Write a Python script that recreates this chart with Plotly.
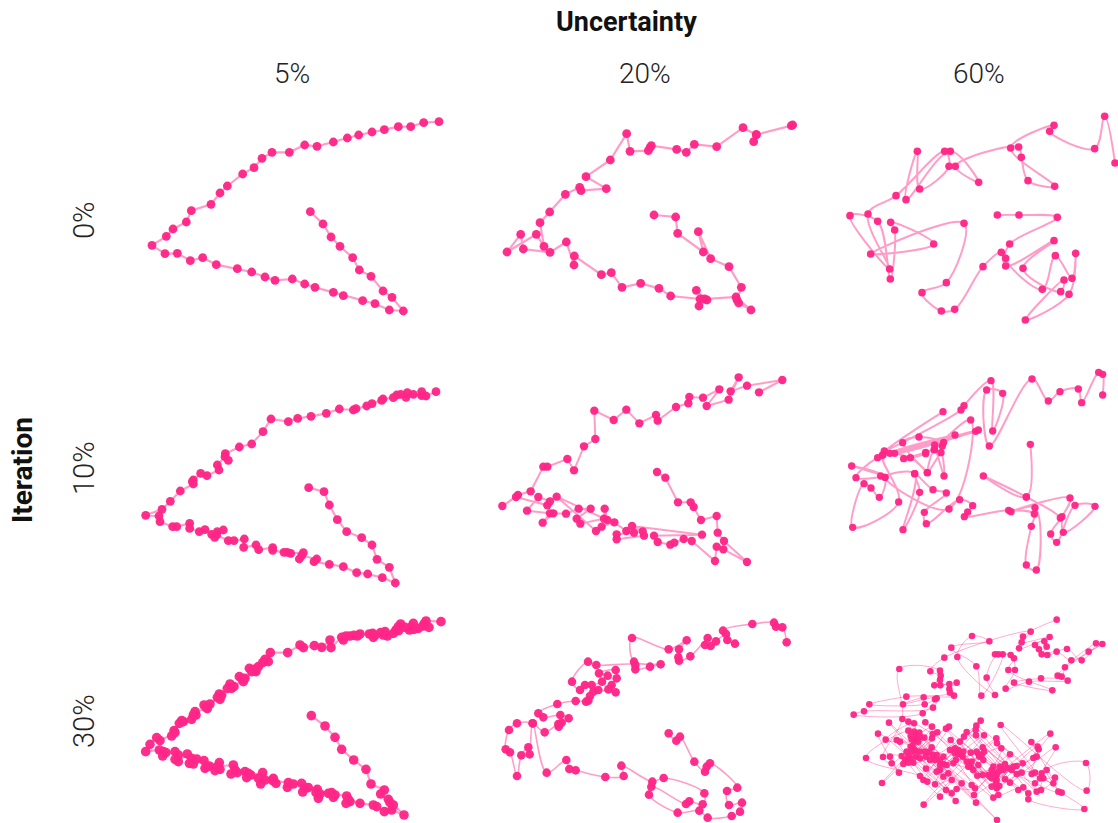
import plotly.graph_objects as go

FIG_W, FIG_H = 1118, 823
PINK = "rgba(255,38,135,0.97)"
LINE = "rgba(255,38,135,0.45)"
LINE_FAINT = "rgba(255,38,135,0.38)"
FONT = "Roboto, sans-serif"

column_labels = ["5%", "20%", "60%"]
column_label_x = [292, 645, 979]
row_labels = ["0%", "10%", "30%"]
row_label_y = [220, 468, 721]

it0_u5 = [(927,50),(881,53),(842,65),(805,65),(763,74),(726,81),(686,90),(652,99),(610,111),(561,124),(524,120),(478,142),(426,142),(396,160),(372,188),(338,207),(292,243),(270,264),(243,298),(184,317),(169,351),(129,372),(109,394),(66,421),(105,446),(142,445),(181,467),(218,458),(259,479),(322,491),(365,501),(405,516),(435,526),(487,522),(524,537),(555,547),(610,562),(640,572),(698,587),(735,596),(778,615),(820,618),(786,577),(759,558),(723,514),(688,495),(668,458),(630,424),(603,396),(579,357),(541,320)]

it0_u20 = [(908,60),(904,62),(799,89),(791,110),(799,89),(759,68),(680,125),(613,118),(589,142),(560,133),(484,122),(480,128),(475,137),(420,139),(410,86),(361,165),(288,215),(349,251),(273,257),(269,247),(226,268),(179,321),(150,353),(162,424),(139,388),(51,441),(92,388),(100,432),(180,442),(229,411),(252,480),(253,453),(334,509),(364,503),(396,547),(452,535),(507,550),(542,573),(630,582),(627,603),(651,585),(619,556),(644,582),(738,576),(783,615),(746,594),(741,585),(754,547),(717,485),(662,461),(625,380),(640,441),(563,385),(557,336),(492,330)]

it0_u60 = [(840,174),(809,34),(779,131),(644,79),(657,61),(527,129),(659,244),(579,227),(559,157),(551,126),(361,184),(431,232),(346,139),(213,284),(247,139),(254,252),(342,184),(329,139),(183,272),(99,327),(164,492),(45,332),(128,349),(166,522),(179,375),(167,352),(296,417),(107,447),(387,355),(334,533),(261,563),(319,618),(359,613),(444,485),(499,442),(512,483),(657,407),(564,490),(677,560),(687,525),(571,645),(702,568),(722,445),(711,520),(661,452),(622,553),(512,460),(524,417),(667,337),(552,330),(487,330)]

it10_u5 = [(918,50),(888,63),(875,50),(875,62),(850,58),(832,53),(828,67),(812,58),(800,60),(790,68),(759,72),(755,76),(726,86),(710,93),(678,101),(670,105),(628,102),(589,115),(543,124),(503,130),(475,140),(423,132),(399,170),(365,207),(328,216),(286,236),(295,256),(285,245),(262,270),(267,285),(231,302),(212,295),(190,315),(187,320),(190,327),(151,348),(121,379),(96,403),(47,421),(87,423),(90,440),(128,455),(140,455),(179,445),(179,460),(208,470),(225,464),(245,478),(262,470),(280,465),(254,487),(260,480),(295,497),(312,497),(343,492),(341,517),(378,510),(386,524),(428,518),(428,526),(462,532),(472,532),(482,535),(520,533),(508,552),(515,542),(560,552),(552,560),(598,568),(640,575),(680,593),(713,597),(757,608),(796,624),(778,577),(741,553),(726,510),(695,488),(650,470),(622,434),(598,390),(582,350),(536,338)]

it10_u20 = [(807,67),(877,30),(771,47),(722,64),(746,22),(716,89),(650,108),(688,58),(639,83),(598,81),(595,100),(558,111),(503,152),(498,135),(448,160),(409,119),(371,150),(313,122),(316,207),(282,229),(252,301),(232,267),(172,290),(160,290),(122,364),(84,375),(37,408),(78,381),(172,406),(180,394),(145,381),(111,422),(180,430),(158,458),(190,430),(228,431),(266,416),(302,416),(260,446),(271,461),(342,446),(344,416),(352,450),(200,380),(318,483),(335,470),(373,457),(409,483),(432,488),(380,493),(380,508),(462,497),(458,484),(426,468),(636,494),(492,497),(503,516),(541,524),(553,518),(581,507),(605,513),(675,573),(680,530),(700,538),(771,576),(702,513),(683,488),(680,438),(633,450),(611,411),(602,397),(564,397),(526,323),(501,306)]

it10_u60 = [(803,90),(803,28),(791,22),(740,113),(730,72),(675,80),(640,108),(591,42),(463,243),(455,75),(503,85),(473,198),(468,47),(387,122),(378,135),(148,258),(324,140),(143,270),(422,199),(165,265),(430,195),(179,265),(360,210),(128,278),(63,338),(137,333),(50,303),(150,337),(133,397),(108,369),(87,356),(53,487),(191,411),(143,270),(226,278),(277,323),(203,233),(252,216),(326,232),(299,240),(298,254),(318,263),(327,333),(298,254),(277,323),(322,243),(272,262),(206,281),(272,266),(407,165),(342,432),(150,337),(239,326),(204,494),(254,382),(239,326),(294,374),(334,384),(268,442),(274,476),(374,404),(413,422),(398,441),(388,455),(521,436),(598,447),(589,484),(574,600),(604,615),(600,428),(528,440),(705,399),(681,455),(647,507),(665,532),(720,421),(780,424),(685,502),(676,459),(574,396),(445,333),(574,396),(586,238)]

it30_u5 = [(933,35),(888,33),(882,42),(897,52),(880,48),(865,55),(850,40),(845,50),(852,58),(838,60),(825,52),(812,42),(805,50),(798,60),(806,62),(790,70),(765,65),(760,75),(772,78),(752,68),(730,82),(728,70),(718,72),(735,76),(690,72),(682,78),(672,76),(660,78),(648,78),(640,90),(635,82),(603,113),(600,90),(575,112),(553,107),(520,113),(510,105),(473,128),(421,128),(415,155),(405,148),(398,158),(385,170),(378,185),(365,185),(358,175),(372,178),(340,215),(335,205),(328,200),(345,205),(312,230),(300,222),(292,235),(305,235),(268,252),(262,262),(270,268),(275,256),(240,282),(228,292),(222,285),(232,296),(195,305),(190,315),(185,328),(198,315),(160,335),(148,340),(155,332),(132,362),(125,378),(135,368),(90,392),(80,383),(60,403),(47,425),(88,420),(100,425),(98,438),(108,428),(135,425),(145,435),(135,448),(145,455),(172,432),(185,445),(178,460),(190,462),(200,447),(222,452),(230,470),(225,475),(238,468),(268,458),(270,478),(255,482),(262,470),(310,465),(315,480),(303,492),(322,488),(345,485),(355,490),(350,503),(362,495),(398,488),(405,510),(392,522),(385,505),(430,505),(438,520),(428,512),(475,518),(472,532),(490,522),(515,520),(525,535),(518,546),(535,533),(562,538),(570,552),(565,565),(558,548),(605,548),(615,555),(610,562),(595,550),(650,558),(660,575),(648,580),(655,568),(690,580),(730,585),(740,590),(763,605),(785,600),(822,615),(790,585),(775,568),(780,578),(752,552),(763,540),(723,522),(708,478),(671,450),(635,418),(615,382),(585,348),(544,317)]

it30_u20 = [(890,97),(877,52),(858,50),(852,38),(787,42),(699,62),(735,101),(712,90),(708,72),(678,94),(662,108),(645,105),(653,84),(601,139),(567,152),(565,142),(567,118),(590,91),(536,118),(426,84),(432,155),(512,163),(480,170),(436,178),(436,165),(319,165),(294,155),(246,215),(270,240),(285,225),(305,225),(336,215),(353,197),(327,190),(377,180),(380,205),(365,225),(355,238),(377,247),(325,240),(310,245),(300,258),(295,272),(288,275),(257,273),(202,282),(145,310),(160,322),(211,315),(236,325),(215,338),(206,350),(205,342),(164,367),(128,340),(81,340),(57,360),(47,418),(60,427),(81,498),(94,436),(115,412),(119,433),(128,340),(170,488),(229,450),(238,477),(257,481),(346,501),(401,498),(394,467),(487,515),(521,504),(643,550),(638,583),(598,574),(588,582),(484,530),(477,554),(563,608),(628,602),(653,623),(725,618),(750,605),(756,578),(717,585),(711,543),(742,533),(660,460),(650,470),(645,485),(613,455),(570,380),(559,392),(536,370)]

it30_u60_upper_right = [(650,29),(572,65),(549,80),(545,97),(537,115),(629,81),(613,94),(585,105),(620,110),(597,118),(605,133),(622,135),(650,125),(681,117),(694,151),(725,151),(746,125),(768,100),(787,102),(675,172),(653,197),(665,200),(683,212),(603,205),(567,215),(522,218),(497,236),(637,241),(525,180),(505,180),(512,135),(522,145),(465,133),(475,133),(488,133),(440,203),(424,257),(465,255),(409,169),(352,141),(334,113),(396,78),(448,94)]
it30_u60_upper_left = [(313,143),(178,177),(271,184),(300,182),(302,197),(300,210),(283,226),(301,226),(350,218),(328,222),(328,237),(330,248),(342,257),(199,260),(251,262),(88,283),(189,283),(254,283),(290,265),(285,268),(279,293),(248,310),(72,304),(41,314)]
it30_u60_lower = [(422,332),(482,345),(631,371),(409,347),(407,360),(408,376),(432,376),(380,366),(372,380),(360,395),(327,350),(318,356),(276,350),(256,337),(187,327),(205,335),(222,340),(147,338),(205,362),(222,365),(238,368),(232,385),(253,383),(215,388),(180,395),(170,390),(137,389),(114,371),(292,367),(278,372),(276,385),(332,390),(469,385),(471,400),(484,415),(574,396),(593,410),(596,418),(647,412),(738,459),(510,433),(548,460),(590,440),(580,444),(218,408),(215,425),(205,440),(185,438),(190,462),(205,458),(220,458),(150,440),(129,441),(78,444),(155,460),(177,488),(126,519),(238,425),(255,425),(240,445),(258,440),(275,412),(278,435),(270,450),(290,435),(300,450),(310,440),(330,420),(345,430),(355,420),(370,425),(392,428),(410,425),(428,412),(425,435),(430,450),(395,455),(385,470),(400,480),(415,465),(348,450),(340,460),(320,465),(300,480),(290,485),(325,490),(258,476),(240,498),(250,510),(262,515),(285,523),(310,500),(335,510),(365,520),(350,537),(335,550),(318,540),(300,560),(251,584),(347,573),(402,555),(408,578),(405,535),(395,525),(412,497),(428,495),(445,495),(460,470),(480,470),(495,462),(475,485),(455,505),(470,510),(495,508),(510,518),(520,470),(530,468),(515,480),(545,488),(530,492),(575,492),(585,488),(605,490),(620,480),(600,505),(585,520),(610,505),(640,520),(645,503),(535,540),(550,532),(565,550),(565,568),(590,545),(603,540),(655,545),(665,548),(740,542),(733,597),(460,563),(475,555),(455,530),(470,535),(471,630),(228,375),(235,395),(222,395),(212,378),(240,380),(212,410),(225,420),(200,425),(195,450),(212,445),(228,440),(268,425),(285,450),(300,465),(310,462),(355,432),(368,440),(380,455),(392,470),(418,440),(432,425),(415,432),(462,490),(470,495),(455,480),(468,520),(478,528),(490,480),(505,475),(450,500),(345,415),(360,432)]


def weave(points, sweeps):
    """Visit points in back-and-forth passes, so that the line crosses the region."""
    out = []
    for s in range(sweeps):
        part = points[s::sweeps]
        out += part if s % 2 == 0 else part[::-1]
    return out


lower_down = sorted(it30_u60_lower[0::2], key=lambda p: p[0] + p[1])
lower_up = sorted(it30_u60_lower[1::2], key=lambda p: p[0] - p[1])
it30_u60 = (weave(it30_u60_upper_right, 2) + weave(it30_u60_upper_left, 2)
            + weave(lower_down, 4) + weave(lower_up, 4))

# panel: data, crop left, crop top, crop width, crop height, marker size, line width, line shape, line colour
panels = [
    (it0_u5, 130, 105, 330, 225, 8.8, 2.2, "linear", LINE),
    (it0_u20, 490, 105, 320, 225, 8.8, 2.2, "linear", LINE),
    (it0_u60, 835, 105, 283, 225, 7.6, 2, "spline", LINE),
    (it10_u5, 130, 375, 320, 220, 8.8, 2.2, "linear", LINE),
    (it10_u20, 490, 370, 310, 215, 8.4, 2, "linear", LINE),
    (it10_u60, 835, 365, 283, 215, 7.4, 2, "spline", LINE),
    (it30_u5, 130, 610, 320, 213, 9.6, 2.2, "linear", LINE),
    (it30_u20, 490, 610, 310, 213, 8.6, 1.6, "spline", LINE),
    (it30_u60, 840, 610, 278, 213, 6.6, 1, "spline", LINE_FAINT),
]

fig = go.Figure()
layout = {}
for i, (pts, ox, oy, w, h, ms, lw, shape, lc) in enumerate(panels, start=1):
    fig.add_trace(go.Scatter(
        x=[p[0] for p in pts], y=[p[1] for p in pts],
        mode="lines+markers", xaxis=f"x{i}", yaxis=f"y{i}",
        cliponaxis=False, showlegend=False, hoverinfo="skip",
        line=dict(color=lc, width=lw, shape=shape, smoothing=1.0),
        marker=dict(color=PINK, size=ms, line=dict(width=0)),
    ))
    layout[f"xaxis{i}"] = dict(domain=[ox / FIG_W, (ox + w) / FIG_W], range=[0, w * 3],
                               visible=False, anchor=f"y{i}")
    layout[f"yaxis{i}"] = dict(domain=[1 - (oy + h) / FIG_H, 1 - oy / FIG_H], range=[h * 3, 0],
                               visible=False, anchor=f"x{i}")

notes = [dict(text="Uncertainty", x=626 / FIG_W, y=1 - 22 / FIG_H,
              font=dict(size=27, family=FONT, weight="bold", color="#111")),
         dict(text="Iteration", x=22 / FIG_W, y=1 - 470 / FIG_H, textangle=-90,
              font=dict(size=28, family=FONT, weight="bold", color="#111"))]
for t, x in zip(column_labels, column_label_x):
    notes.append(dict(text=t, x=x / FIG_W, y=1 - 73 / FIG_H,
                      font=dict(size=28, family=FONT, weight=300, color="#222")))
for t, y in zip(row_labels, row_label_y):
    notes.append(dict(text=t, x=84 / FIG_W, y=1 - y / FIG_H, textangle=-90,
                      font=dict(size=29, family=FONT, weight=300, color="#222")))
for n in notes:
    n.update(xref="paper", yref="paper", showarrow=False, xanchor="center", yanchor="middle")

fig.update_layout(width=FIG_W, height=FIG_H, margin=dict(l=0, r=0, t=0, b=0),
                  paper_bgcolor="white", plot_bgcolor="rgba(0,0,0,0)",
                  annotations=notes, **layout)
fig.write_html("out.html", config={"displayModeBar": False},
               post_script="document.body.style.margin='0';document.body.style.overflow='hidden';")
